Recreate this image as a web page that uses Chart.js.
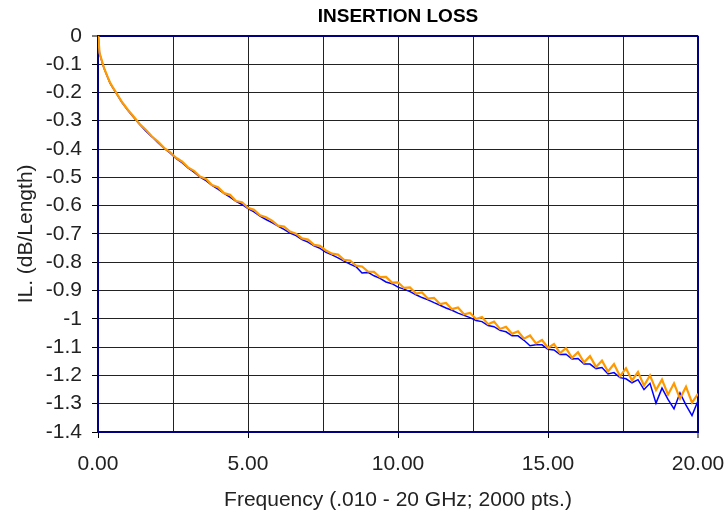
<!DOCTYPE html>
<html>
<head>
<meta charset="utf-8">
<title>Insertion Loss</title>
<script src="https://cdn.jsdelivr.net/npm/chart.js@4.4.1/dist/chart.umd.min.js"></script>
<style>
  html, body { margin: 0; padding: 0; background: #fff; }
  #wrap { width: 727px; height: 514px; }
</style>
</head>
<body>
<div id="wrap"><canvas id="ilChart" width="727" height="514"></canvas></div>
<script>
// frequency points (GHz)
const freqGHz = [
  0.01, 0.05, 0.1, 0.2, 0.3, 0.4, 0.5, 0.6, 0.8, 1.0,
  1.2, 1.4, 1.6, 1.8, 2.0, 2.2, 2.4, 2.6, 2.8, 3.0,
  3.2, 3.4, 3.6, 3.8, 4.0, 4.2, 4.4, 4.6, 4.8, 5.0,
  5.2, 5.4, 5.6, 5.8, 6.0, 6.2, 6.4, 6.6, 6.8, 7.0,
  7.2, 7.4, 7.6, 7.8, 8.0, 8.2, 8.4, 8.6, 8.8, 9.0,
  9.2, 9.4, 9.6, 9.8, 10.0, 10.2, 10.4, 10.6, 10.8, 11.0,
  11.2, 11.4, 11.6, 11.8, 12.0, 12.2, 12.4, 12.6, 12.8, 13.0,
  13.2, 13.4, 13.6, 13.8, 14.0, 14.2, 14.4, 14.6, 14.8, 15.0,
  15.2, 15.4, 15.6, 15.8, 16.0, 16.2, 16.4, 16.6, 16.8, 17.0,
  17.2, 17.4, 17.6, 17.8, 18.0, 18.2, 18.4, 18.6, 18.8, 19.0,
  19.2, 19.4, 19.6, 19.8, 20.0
];

// orange trace (dB/Length)
const ilOrange = [
  0, -0.06, -0.078, -0.113, -0.14, -0.165, -0.183, -0.2, -0.234, -0.262,
  -0.287, -0.313, -0.333, -0.356, -0.374, -0.396, -0.411, -0.431, -0.444, -0.465,
  -0.477, -0.497, -0.506, -0.527, -0.535, -0.556, -0.562, -0.584, -0.588, -0.608,
  -0.615, -0.634, -0.641, -0.653, -0.671, -0.674, -0.692, -0.699, -0.716, -0.720,
  -0.739, -0.742, -0.759, -0.770, -0.773, -0.792, -0.794, -0.812, -0.815, -0.833,
  -0.834, -0.853, -0.852, -0.872, -0.871, -0.891, -0.889, -0.911, -0.907, -0.929,
  -0.926, -0.948, -0.944, -0.966, -0.960, -0.984, -0.979, -1.001, -0.994, -1.019,
  -1.010, -1.036, -1.028, -1.053, -1.044, -1.070, -1.059, -1.087, -1.075, -1.103,
  -1.089, -1.121, -1.104, -1.138, -1.118, -1.154, -1.132, -1.170, -1.148, -1.186,
  -1.160, -1.203, -1.175, -1.218, -1.188, -1.236, -1.200, -1.252, -1.215, -1.268,
  -1.228, -1.282, -1.240, -1.296, -1.265
];

// blue trace (dB/Length)
const ilBlue = [
  -0.001, -0.061, -0.08, -0.115, -0.141, -0.167, -0.185, -0.202, -0.236, -0.264,
  -0.290, -0.314, -0.337, -0.357, -0.378, -0.397, -0.414, -0.433, -0.448, -0.467,
  -0.482, -0.499, -0.512, -0.529, -0.542, -0.557, -0.570, -0.585, -0.596, -0.611,
  -0.622, -0.637, -0.649, -0.660, -0.672, -0.684, -0.697, -0.706, -0.720, -0.729,
  -0.742, -0.751, -0.765, -0.774, -0.785, -0.796, -0.807, -0.816, -0.838, -0.836,
  -0.848, -0.857, -0.870, -0.876, -0.888, -0.895, -0.904, -0.915, -0.925, -0.933,
  -0.943, -0.952, -0.962, -0.970, -0.980, -0.988, -0.996, -1.006, -1.010, -1.024,
  -1.028, -1.041, -1.046, -1.060, -1.060, -1.076, -1.095, -1.092, -1.092, -1.108,
  -1.110, -1.126, -1.125, -1.142, -1.140, -1.160, -1.160, -1.176, -1.172, -1.195,
  -1.190, -1.208, -1.212, -1.226, -1.215, -1.250, -1.228, -1.298, -1.245, -1.285,
  -1.318, -1.262, -1.305, -1.342, -1.290
];

// labelled x ticks (gridlines every 2.5)
const xLabelTicks = [0, 5, 10, 15, 20];

const FONT = "'Liberation Sans', Arial, sans-serif";
const NAVY = '#000080';

const toPoints = (ys) => freqGHz.map((f, i) => ({ x: f, y: ys[i] }));

new Chart(document.getElementById('ilChart'), {
  type: 'line',
  data: {
    datasets: [
      // first dataset is drawn on top
      { label: 'orange', data: toPoints(ilOrange), borderColor: '#ff9900', borderWidth: 2.2, pointRadius: 0, tension: 0 },
      { label: 'blue', data: toPoints(ilBlue), borderColor: '#0000ff', borderWidth: 1.5, pointRadius: 0, tension: 0 }
    ]
  },
  options: {
    responsive: false,
    animation: false,
    devicePixelRatio: 1,
    layout: { padding: { left: 0, right: 29, top: 0, bottom: 0 } },
    plugins: {
      legend: { display: false },
      tooltip: { enabled: false },
      title: {
        display: true,
        text: 'INSERTION LOSS',
        fullSize: false,
        color: '#000',
        font: { family: FONT, size: 19, weight: 'bold' },
        padding: { top: 5, bottom: 8 }
      }
    },
    scales: {
      x: {
        type: 'linear',
        min: 0,
        max: 20,
        afterFit: (s) => { s.height = 82; s.paddingLeft = 0; s.paddingRight = 0; },
        ticks: {
          stepSize: 2.5,
          autoSkip: false,
          maxRotation: 0,
          padding: 14,
          color: '#222',
          font: { family: FONT, size: 21 },
          callback: (v) => xLabelTicks.includes(v) ? v.toFixed(2) : ''
        },
        grid: {
          color: (c) => c.tick && c.tick.value === 20 ? NAVY : '#222',
          lineWidth: (c) => c.tick && c.tick.value === 20 ? 2 : 1,
          tickColor: (c) => c.tick && xLabelTicks.includes(c.tick.value) ? '#000' : 'rgba(0,0,0,0)',
          tickLength: 6,
          tickWidth: 1
        },
        border: { color: NAVY, width: 2 },
        title: {
          display: true,
          text: 'Frequency (.010 - 20 GHz; 2000 pts.)',
          color: '#222',
          font: { family: FONT, size: 21 },
          padding: { top: 0, bottom: 1 }
        }
      },
      y: {
        min: -1.4,
        max: 0,
        afterFit: (s) => { s.width = 98; },
        ticks: {
          stepSize: 0.1,
          padding: 10,
          color: '#222',
          font: { family: FONT, size: 21 },
          callback: (v) => String(Math.round(v * 10) / 10)
        },
        grid: {
          color: (c) => c.tick && Math.abs(c.tick.value) < 1e-9 ? NAVY : '#222',
          lineWidth: (c) => c.tick && Math.abs(c.tick.value) < 1e-9 ? 2 : 1,
          tickColor: '#000',
          tickLength: 6,
          tickWidth: 1
        },
        border: { color: NAVY, width: 2 },
        title: {
          display: true,
          text: 'IL. (dB/Length)',
          color: '#222',
          font: { family: FONT, size: 21 },
          padding: { top: 14, bottom: 0 }
        }
      }
    }
  }
});
</script>
</body>
</html>
